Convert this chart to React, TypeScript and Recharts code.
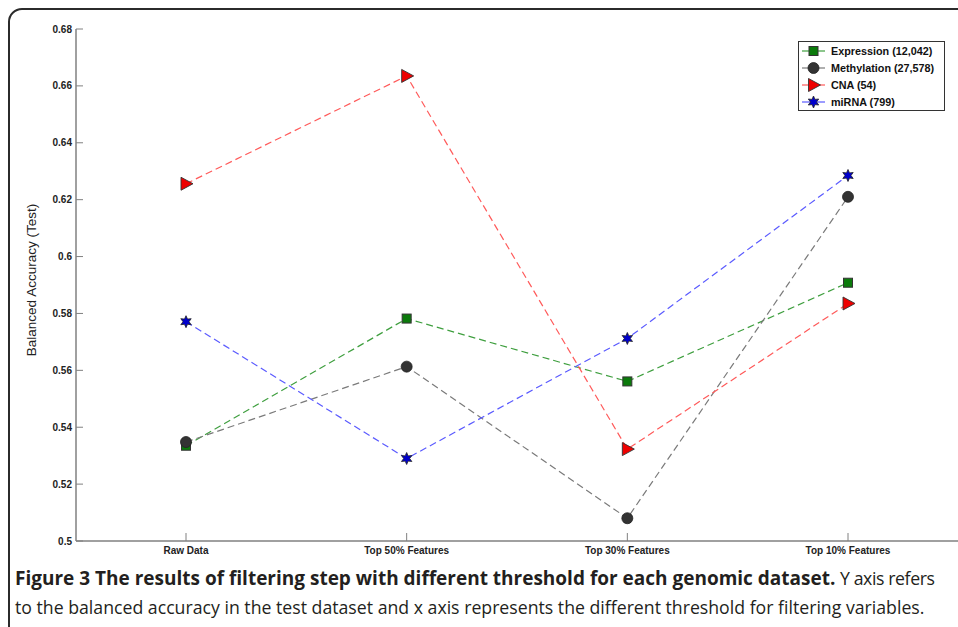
import React from "react";
import { LineChart, Line, XAxis, YAxis } from "recharts";

const categories = ["Raw Data", "Top 50% Features", "Top 30% Features", "Top 10% Features"];
const expression = [0.5335, 0.5782, 0.5561, 0.5908];
const methylation = [0.5348, 0.5613, 0.508, 0.621];
const cna = [0.6256, 0.6635, 0.5323, 0.5835];
const mirna = [0.5771, 0.529, 0.5712, 0.6285];
const yTicks = [0.5, 0.52, 0.54, 0.56, 0.58, 0.6, 0.62, 0.64, 0.66, 0.68];

type Kind = "square" | "circle" | "triangle" | "star";

const series: { key: string; name: string; values: number[]; line: string; fill: string; kind: Kind }[] = [
  { key: "expression", name: "Expression (12,042)", values: expression, line: "#3f9f3f", fill: "#0b7a0b", kind: "square" },
  { key: "methylation", name: "Methylation (27,578)", values: methylation, line: "#7a7a7a", fill: "#333333", kind: "circle" },
  { key: "cna", name: "CNA (54)", values: cna, line: "#ff5a5a", fill: "#ee0000", kind: "triangle" },
  { key: "mirna", name: "miRNA (799)", values: mirna, line: "#5a5aff", fill: "#0000cc", kind: "star" },
];

const data = categories.map((c, i) => {
  const row: Record<string, string | number> = { cat: c };
  series.forEach((s) => (row[s.key] = s.values[i]));
  return row;
});

const AXIS = "#808080";

function Marker({ kind, cx, cy, fill }: { kind: Kind; cx: number; cy: number; fill: string }) {
  if (kind === "square") {
    return <rect x={cx - 4.5} y={cy - 4.5} width={9} height={9} fill={fill} stroke="#333" strokeWidth={1} />;
  }
  if (kind === "circle") {
    return <circle cx={cx} cy={cy} r={5.5} fill={fill} stroke="#222" strokeWidth={0.8} />;
  }
  if (kind === "triangle") {
    return (
      <polygon
        points={`${cx - 5},${cy - 6.5} ${cx + 7},${cy} ${cx - 5},${cy + 6.5}`}
        fill={fill}
        stroke="#333"
        strokeWidth={0.9}
      />
    );
  }
  const pts: string[] = [];
  for (let k = 0; k < 12; k++) {
    const r = k % 2 === 0 ? 6 : 3;
    const a = (Math.PI / 6) * k - Math.PI / 2;
    pts.push(`${cx + r * Math.cos(a)},${cy + r * Math.sin(a)}`);
  }
  return <polygon points={pts.join(" ")} fill={fill} stroke="#222" strokeWidth={0.8} />;
}

const LeftTick = (props: any) => {
  const { x, y, payload } = props;
  return (
    <g>
      <line x1={x} x2={x + 7} y1={y} y2={y} stroke={AXIS} />
      <text x={x - 4} y={y} dy={3.5} textAnchor="end" fontSize={10} fontWeight="bold" fill="#222"
        fontFamily="'Liberation Sans', Arial, sans-serif">
        {payload.value}
      </text>
    </g>
  );
};

const RightTick = (props: any) => {
  const { x, y } = props;
  return <line x1={x - 7} x2={x} y1={y} y2={y} stroke={AXIS} />;
};

const BottomTick = (props: any) => {
  const { x, y, payload } = props;
  return (
    <g>
      <line x1={x} x2={x} y1={y - 8} y2={y} stroke={AXIS} />
      <text x={x} y={y + 13} textAnchor="middle" fontSize={10} fontWeight="bold" fill="#222"
        fontFamily="'Liberation Sans Narrow', 'Liberation Sans', Arial, sans-serif">
        {payload.value}
      </text>
    </g>
  );
};

export default function App() {
  return (
    <div style={{ position: "fixed", left: 0, top: 0, width: 958, height: 627, overflow: "hidden", background: "#fff" }}>
      <div
        style={{
          position: "absolute",
          left: 8,
          top: 8,
          width: 980,
          height: 640,
          border: "2px solid #2b2b2b",
          borderRadius: 14,
          boxSizing: "border-box",
        }}
      />
      <div style={{ position: "absolute", left: 0, top: 0 }}>
        <LineChart width={980} height={600} data={data} margin={{ top: 29, right: 22, bottom: 29, left: 26 }}>
          <XAxis
            dataKey="cat"
            xAxisId="b"
            padding={{ left: 110, right: 110 }}
            stroke={AXIS}
            strokeWidth={1.5}
            tickSize={0}
            tickMargin={0}
            tickLine={false}
            height={30}
            tick={<BottomTick />}
            interval={0}
          />
          <XAxis dataKey="cat" xAxisId="t" orientation="top" stroke={AXIS} strokeWidth={1.5} tick={false} tickLine={false} height={0} />
          <YAxis
            yAxisId="l"
            domain={[0.5, 0.68]}
            ticks={yTicks}
            stroke={AXIS}
            strokeWidth={1.5}
            tickSize={0}
            tickMargin={0}
            tickLine={false}
            width={50}
            tick={<LeftTick />}
            interval={0}
          />
          <YAxis
            yAxisId="r"
            orientation="right"
            domain={[0.5, 0.68]}
            ticks={yTicks}
            stroke={AXIS}
            strokeWidth={1.5}
            tickSize={0}
            tickMargin={0}
            tickLine={false}
            width={0}
            tick={<RightTick />}
            interval={0}
          />
          {series.map((s) => (
            <Line
              key={s.key}
              xAxisId="b"
              yAxisId="l"
              dataKey={s.key}
              name={s.name}
              stroke={s.line}
              strokeWidth={1.2}
              strokeDasharray="7 4"
              isAnimationActive={false}
              activeDot={false}
              dot={(p: any) => <Marker key={`${s.key}-${p.index}`} kind={s.kind} cx={p.cx} cy={p.cy} fill={s.fill} />}
            />
          ))}
        </LineChart>
      </div>
      <div
        style={{
          position: "absolute",
          left: 31,
          top: 280,
          transform: "translate(-50%, -50%) rotate(-90deg)",
          transformOrigin: "center",
          whiteSpace: "nowrap",
          fontFamily: "'Liberation Sans', Arial, sans-serif",
          fontSize: 13.5,
          color: "#222",
        }}
      >
        Balanced Accuracy (Test)
      </div>
      <div
        style={{
          position: "absolute",
          left: 798,
          top: 41,
          width: 147,
          height: 70,
          border: "1px solid #333",
          background: "#fff",
          boxSizing: "border-box",
        }}
      >
        <svg width={147} height={70} style={{ position: "absolute", left: -1, top: -1 }}>
          {series.map((s, i) => {
            const y = 10 + i * 17;
            return (
              <g key={s.key}>
                <line x1={4} x2={27} y1={y} y2={y} stroke={s.line} strokeWidth={1.2} />
                <Marker kind={s.kind} cx={15.5} cy={y} fill={s.fill} />
                <text x={33} y={y + 4} fontSize={10.8} fontWeight="bold" fill="#111"
                  fontFamily="'Liberation Sans', Arial, sans-serif">
                  {s.name}
                </text>
              </g>
            );
          })}
        </svg>
      </div>
      <div
        style={{
          position: "absolute",
          left: 15,
          top: 564,
          width: 960,
          whiteSpace: "nowrap",
          fontFamily: "'Open Sans', 'Noto Sans', sans-serif",
          fontSize: 17.7,
          lineHeight: "29px",
          color: "#231f20",
        }}
      >
        <span style={{ fontWeight: 700, fontSize: 19 }}>
          Figure 3 The results of filtering step with different threshold for each genomic dataset.
        </span>{" "}
        <span style={{ letterSpacing: -0.4 }}>Y axis refers</span>
        <br />
        <span>
          to the balanced accuracy in the test dataset and x axis represents the different threshold for filtering
          variables.
        </span>
      </div>
    </div>
  );
}
